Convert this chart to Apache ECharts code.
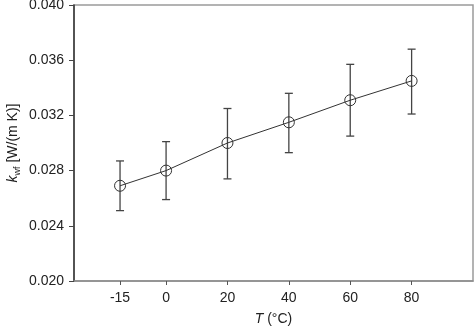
<!DOCTYPE html>
<html>
<head>
<meta charset="utf-8">
<style>
  html, body { margin: 0; padding: 0; background: #fff; }
  #chart { width: 474px; height: 330px; }
</style>
<script src="https://cdn.jsdelivr.net/npm/echarts@6/dist/echarts.min.js"></script>
</head>
<body>
<div id="chart"></div>
<script>
// Thermal conductivity vs temperature, mean with error bars
const temps = [-15, 0, 20, 40, 60, 80];
const kMean = [0.0269, 0.0280, 0.0300, 0.0315, 0.0331, 0.0345];
const kLow  = [0.0251, 0.0259, 0.0274, 0.0293, 0.0305, 0.0321];
const kHigh = [0.0287, 0.0301, 0.0325, 0.0336, 0.0357, 0.0368];
const xTicks = [-15, 0, 20, 40, 60, 80];

const FONT = '"Liberation Sans", Arial, sans-serif';

const meanData = temps.map((t, i) => [t, kMean[i]]);
const errData = temps.map((t, i) => [t, kLow[i], kHigh[i]]);

const chart = echarts.init(document.getElementById('chart'), null, { renderer: 'canvas' });

chart.setOption({
  animation: false,
  backgroundColor: '#fff',
  grid: {
    left: 74, right: 1, top: 5, bottom: 49,
    containLabel: false,
    outerBoundsMode: 'none',
    show: true, borderColor: '#9a9a9a', borderWidth: 1.5, backgroundColor: 'transparent'
  },
  xAxis: {
    type: 'value',
    min: -30, max: 100,
    axisLine: { show: true, onZero: false, lineStyle: { color: '#8c8c8c', width: 1.5 } },
    axisTick: { show: true, inside: false, length: 4, customValues: xTicks, lineStyle: { color: '#555' } },
    axisLabel: { customValues: xTicks, margin: 10, color: '#222', fontFamily: FONT, fontSize: 14 },
    splitLine: { show: false },
    name: '{i|T} ({n|°C})',
    nameLocation: 'middle',
    nameMoveOverlap: false,
    nameGap: 31,
    nameTextStyle: {
      color: '#222', fontFamily: FONT, fontSize: 14,
      rich: {
        i: { fontStyle: 'italic', fontFamily: FONT, fontSize: 14, color: '#222' },
        n: { fontFamily: FONT, fontSize: 14, color: '#222' }
      }
    }
  },
  yAxis: {
    type: 'value',
    min: 0.020, max: 0.040, interval: 0.004,
    axisLine: { show: true, onZero: false, lineStyle: { color: '#333', width: 1.5 } },
    axisTick: { show: true, inside: false, length: 5, lineStyle: { color: '#444' } },
    axisLabel: {
      margin: 10, color: '#222', fontFamily: FONT, fontSize: 14,
      formatter: v => v.toFixed(3)
    },
    splitLine: { show: false },
    name: '{i|k}{s|wf} [W/(m K)]',
    nameLocation: 'middle',
    nameRotate: 90,
    nameMoveOverlap: false,
    nameGap: 52,
    nameTextStyle: {
      color: '#222', fontFamily: FONT, fontSize: 14, lineHeight: 18,
      rich: {
        i: { fontStyle: 'italic', fontFamily: FONT, fontSize: 14, lineHeight: 18, color: '#222' },
        s: { fontFamily: FONT, fontSize: 9, lineHeight: 9, verticalAlign: 'bottom', color: '#222' }
      }
    }
  },
  series: [
    {
      type: 'custom',
      name: 'error',
      data: errData,
      z: 1,
      renderItem: function (params, api) {
        const x = api.value(0);
        const lo = api.coord([x, api.value(1)]);
        const hi = api.coord([x, api.value(2)]);
        const cap = 4;
        const style = { stroke: '#444', lineWidth: 1.3 };
        return {
          type: 'group',
          children: [
            { type: 'line', shape: { x1: lo[0], y1: lo[1], x2: hi[0], y2: hi[1] }, style },
            { type: 'line', shape: { x1: lo[0] - cap, y1: lo[1], x2: lo[0] + cap, y2: lo[1] }, style },
            { type: 'line', shape: { x1: hi[0] - cap, y1: hi[1], x2: hi[0] + cap, y2: hi[1] }, style }
          ]
        };
      }
    },
    {
      type: 'line',
      name: 'mean',
      data: meanData,
      z: 2,
      symbol: 'circle',
      symbolSize: 11,
      showAllSymbol: true,
      lineStyle: { color: '#333', width: 1 },
      itemStyle: { color: 'rgba(0,0,0,0)', borderColor: '#333', borderWidth: 1 }
    }
  ]
});
</script>
</body>
</html>
